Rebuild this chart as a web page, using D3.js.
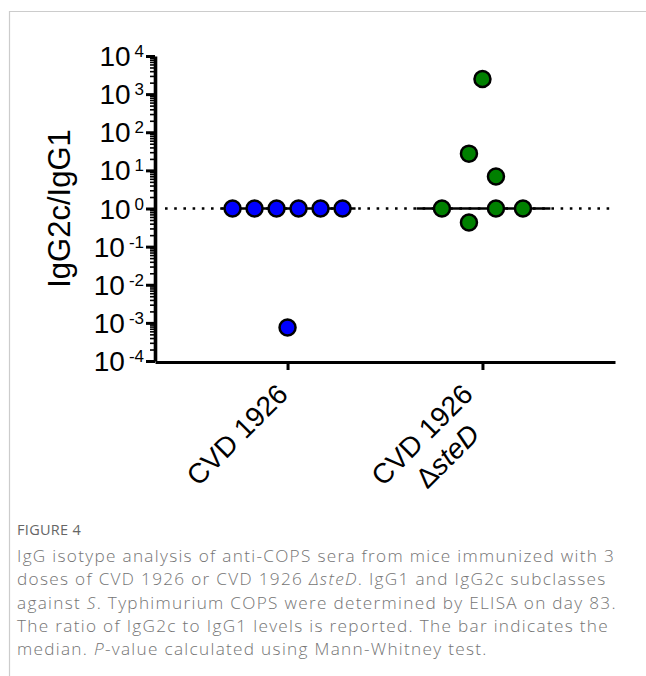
<!DOCTYPE html>
<html>
<head>
<meta charset="utf-8">
<script src="https://cdn.jsdelivr.net/npm/d3@7"></script>
<style>
body { margin: 0; background: #fff; }
svg { display: block; }
</style>
</head>
<body>
<svg id="chart"></svg>
<script>
// data
var groups = ["CVD 1926", "CVD 1926 \u0394steD"];
var groupLabels = [
    [[{t: "CVD 1926"}]],
    [[{t: "CVD 1926"}], [{t: "\u0394"}, {t: "steD", i: true}]]
];
var wtRatio = [1, 1, 1, 1, 1, 1, 0.00076];
var stedRatio = [1, 27.5, 0.43, 2500, 6.9, 1, 1];
var groupColors = ["#0000ff", "#008000"];
var yExponents = [-4, -3, -2, -1, 0, 1, 2, 3, 4];
var yTitle = "IgG2c/IgG1";
var captionHead = "FIGURE 4";
var captionLines = [
    [{t: "IgG isotype analysis of anti-COPS sera from mice immunized with 3"}],
    [{t: "doses of CVD 1926 or CVD 1926 "}, {t: "\u0394steD", i: true}, {t: ". IgG1 and IgG2c subclasses"}],
    [{t: "against "}, {t: "S", i: true}, {t: ". Typhimurium COPS were determined by ELISA on day 83."}],
    [{t: "The ratio of IgG2c to IgG1 levels is reported. The bar indicates the"}],
    [{t: "median. "}, {t: "P", i: true}, {t: "-value calculated using Mann-Whitney test."}]
];

var screen = {width: 646, height: 676};
var svg = d3.select("#chart")
    .attr("width", screen.width)
    .attr("height", screen.height);

// card border (top + left)
svg.append("path")
    .attr("d", "M9.5," + screen.height + "V11.5H" + screen.width)
    .attr("fill", "none")
    .attr("stroke", "#cccccc")
    .attr("stroke-width", 1.2);

var plot = {left: 155, right: 615, top: 56, bottom: 361};
var font = "Liberation Sans, Arial, sans-serif";

var y = d3.scaleLog()
    .domain([1e-4, 1e4])
    .range([plot.bottom, plot.top]);
var x = d3.scalePoint()
    .domain(groups)
    .range([plot.left, plot.right])
    .padding(0.68);

// reference line at 1 (dotted)
svg.append("line")
    .attr("x1", 165).attr("x2", 615)
    .attr("y1", y(1)).attr("y2", y(1))
    .attr("stroke", "#000")
    .attr("stroke-width", 2.6)
    .attr("stroke-linecap", "butt")
    .attr("stroke-dasharray", "2.6,6.6");

// y axis
var minor = [];
yExponents.slice(0, -1).forEach(function(e) {
    for (var m = 2; m < 10; m++) minor.push(m * Math.pow(10, e));
});
var yMinor = svg.append("g")
    .attr("transform", "translate(" + plot.left + ",0)")
    .call(d3.axisLeft(y).tickValues(minor).tickSize(5).tickFormat(""));
yMinor.select(".domain").remove();
yMinor.selectAll("line").attr("stroke-width", 1.6);

var yAxis = svg.append("g")
    .attr("transform", "translate(" + plot.left + ",0)")
    .call(d3.axisLeft(y)
        .tickValues(yExponents.map(function(e) { return Math.pow(10, e); }))
        .tickSize(9).tickSizeOuter(0).tickFormat(""));
yAxis.select(".domain").attr("stroke-width", 3.6);
yAxis.selectAll(".tick line").attr("stroke-width", 3);

var yLab = svg.append("g").selectAll("text")
    .data(yExponents)
    .enter().append("text")
    .attr("x", 144)
    .attr("y", function(e) { return y(Math.pow(10, e)) + 10; })
    .attr("text-anchor", "end")
    .style("font-family", font)
    .attr("fill", "#000");
yLab.append("tspan").style("font-size", "28px").text("10");
yLab.append("tspan").style("font-size", "17px")
    .attr("dx", 4).attr("dy", -9)
    .text(function(e) { return e; });

svg.append("text")
    .attr("transform", "translate(70," + ((plot.top + plot.bottom) / 2) + ") rotate(-90)")
    .attr("text-anchor", "middle")
    .style("font-family", font)
    .style("font-size", "31px")
    .text(yTitle);

// x axis
var xAxis = svg.append("g")
    .attr("transform", "translate(0," + (plot.bottom + 1) + ")")
    .call(d3.axisBottom(x).tickSize(8).tickSizeOuter(0).tickFormat(""));
xAxis.select(".domain").attr("stroke-width", 3);
xAxis.selectAll(".tick line").attr("stroke-width", 3);

groups.forEach(function(g, gi) {
    var lines = groupLabels[gi];
    var lab = svg.append("g")
        .attr("transform", "translate(" + (x(g) + 2 - (lines.length - 1) * 10) + "," + (plot.bottom + 35) + ") rotate(-45)");
    var w1 = 0;
    lines.forEach(function(segs, li) {
        var t = lab.append("text")
            .attr("y", li * 33)
            .style("font-family", font)
            .style("font-size", "28px");
        segs.forEach(function(s) {
            t.append("tspan").style("font-style", s.i ? "italic" : "normal").text(s.t);
        });
        if (li == 0) {
            t.attr("text-anchor", "end");
            w1 = t.node().getComputedTextLength();
        } else {
            t.attr("text-anchor", "middle").attr("x", -w1 / 2 + 3);
        }
    });
});

// scatter layout: points close in y share a row and are spread sideways
var rowGap = 25, maxStep = 27, maxSpread = 110;
var swarm = function(vals) {
    var pts = vals.map(function(v, i) { return {v: v, i: i, y: y(v)}; });
    var rows = [], cur = null;
    pts.slice().sort(function(a, b) { return a.y - b.y; }).forEach(function(p) {
        if (!cur || p.y - cur.y0 > rowGap) {
            cur = {y0: p.y, pts: []};
            rows.push(cur);
        }
        cur.pts.push(p);
    });
    rows.forEach(function(r) {
        r.pts.sort(function(a, b) { return a.i - b.i; });
        var n = r.pts.length;
        var s = n > 1 ? Math.min(maxStep, maxSpread / (n - 1)) : 0;
        r.pts.forEach(function(p, k) { p.dx = (k - (n - 1) / 2) * s; });
    });
    return pts;
};

[wtRatio, stedRatio].forEach(function(vals, gi) {
    var cx = x(groups[gi]);
    var med = d3.median(vals);
    svg.append("line")
        .attr("x1", cx - 66).attr("x2", cx + 68)
        .attr("y1", y(med)).attr("y2", y(med))
        .attr("stroke", "#000")
        .attr("stroke-width", 2.6);
    svg.append("g").selectAll("circle")
        .data(swarm(vals))
        .enter().append("circle")
        .attr("cx", function(d) { return cx + d.dx; })
        .attr("cy", function(d) { return d.y; })
        .attr("r", 8)
        .attr("fill", groupColors[gi])
        .attr("stroke", "#000")
        .attr("stroke-width", 2.5);
});

// caption
var capFont = "'Open Sans', 'Noto Sans', sans-serif";
svg.append("text")
    .attr("x", 17).attr("y", 535)
    .style("font-family", capFont)
    .style("font-size", "14.5px")
    .style("letter-spacing", "0.3px")
    .attr("fill", "#666")
    .text(captionHead);

captionLines.forEach(function(segs, li) {
    var t = svg.append("text")
        .attr("x", 17).attr("y", 562 + li * 23.3)
        .style("font-family", capFont)
        .style("font-size", "17.2px")
        .style("letter-spacing", "1.3px")
        .style("font-weight", 300)
        .attr("fill", "#747474");
    segs.forEach(function(s) {
        t.append("tspan").style("font-style", s.i ? "italic" : "normal").text(s.t);
    });
});
</script>
</body>
</html>
